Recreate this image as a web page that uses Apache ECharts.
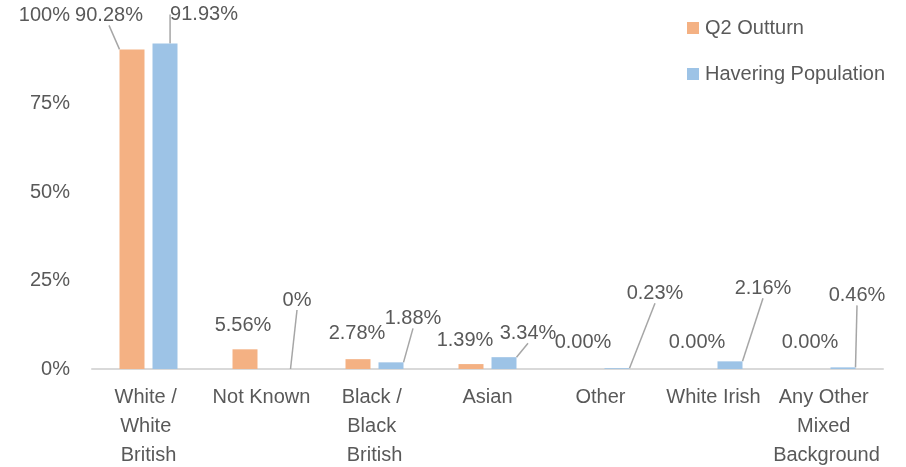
<!DOCTYPE html>
<html>
<head>
<meta charset="utf-8">
<script src="https://cdn.jsdelivr.net/npm/echarts@6/dist/echarts.min.js"></script>
<style>html,body{margin:0;padding:0;background:#fff}#c{width:906px;height:467px}</style>
</head>
<body>
<div id="c"></div>
<script>
var categories = ['White / White British', 'Not Known', 'Black / Black British', 'Asian', 'Other', 'White Irish', 'Any Other Mixed Background'];
var q2Outturn = [90.28, 5.56, 2.78, 1.39, 0.00, 0.00, 0.00];
var haveringPop = [91.93, 0, 1.88, 3.34, 0.23, 2.16, 0.46];
var yTicks = [0, 25, 50, 75, 100];
var seriesNames = ['Q2 Outturn', 'Havering Population'];

// label placement (offset of label centre from bar top-centre) and leader-line flags
var q2LabelOffsets = [[-23, -34], [-2, -24], [-1, -26], [-6, -24], [-1, -27], [0, -27], [0, -27]];
var havLabelOffsets = [[39, -29], [19, -69], [22, -44], [24, -24], [38, -75], [33, -73], [14, -72]];
var q2LeaderLines = [true, false, false, false, false, false, false];
var havLeaderLines = [true, true, true, true, true, true, true];

var TEXT = '#595959';
var FONT = 'Liberation Sans';

function buildData(vals, lines) {
  return vals.map(function (v, i) {
    return { value: v, labelLine: { show: lines[i] } };
  });
}

function layoutFn(offsets) {
  return function (p) {
    var o = offsets[p.dataIndex];
    return {
      x: p.rect.x + p.rect.width / 2 + o[0],
      y: p.rect.y + o[1],
      align: 'center',
      verticalAlign: 'middle'
    };
  };
}

var labelBase = {
  show: true,
  position: 'top',
  color: TEXT,
  fontSize: 20,
  fontFamily: FONT
};

var chart = echarts.init(document.getElementById('c'), null, { renderer: 'canvas' });
chart.setOption({
  animation: false,
  backgroundColor: '#fff',
  textStyle: { fontFamily: FONT },
  grid: { left: 92, right: 23, top: 15, bottom: 98, containLabel: false, outerBoundsMode: 'none' },
  legend: {
    orient: 'vertical',
    left: 682,
    top: 13,
    itemWidth: 12,
    itemHeight: 12,
    itemGap: 26,
    icon: 'rect',
    textStyle: { color: TEXT, fontSize: 20, fontFamily: FONT, lineHeight: 20, padding: [0, 0, 0, 1] },
    data: seriesNames
  },
  xAxis: {
    type: 'category',
    data: categories,
    axisLine: { show: true, lineStyle: { color: '#d9d9d9', width: 2 } },
    axisTick: { show: false },
    axisLabel: {
      color: TEXT, fontSize: 20, fontFamily: FONT, lineHeight: 29,
      margin: 14, interval: 0, width: 108, overflow: 'break'
    }
  },
  yAxis: {
    type: 'value',
    min: yTicks[0],
    max: yTicks[yTicks.length - 1],
    interval: yTicks[1] - yTicks[0],
    axisLine: { show: false },
    axisTick: { show: false },
    splitLine: { show: false },
    axisLabel: { color: TEXT, fontSize: 20, fontFamily: FONT, margin: 22, formatter: '{value}%' }
  },
  series: [
    {
      name: seriesNames[0],
      type: 'bar',
      data: buildData(q2Outturn, q2LeaderLines),
      barWidth: 25,
      barGap: '32%',
      itemStyle: { color: '#F4B183' },
      label: Object.assign({}, labelBase, {
        formatter: function (p) { return p.value.toFixed(2) + '%'; }
      }),
      labelLine: { show: true, lineStyle: { color: '#a6a6a6', width: 1.5 } },
      labelLayout: layoutFn(q2LabelOffsets)
    },
    {
      name: seriesNames[1],
      type: 'bar',
      data: buildData(haveringPop, havLeaderLines),
      barWidth: 25,
      itemStyle: { color: '#9DC3E6' },
      label: Object.assign({}, labelBase, {
        formatter: function (p) { return p.value === 0 ? '0%' : p.value.toFixed(2) + '%'; }
      }),
      labelLine: { show: true, lineStyle: { color: '#a6a6a6', width: 1.5 } },
      labelLayout: layoutFn(havLabelOffsets)
    }
  ]
});
</script>
</body>
</html>
